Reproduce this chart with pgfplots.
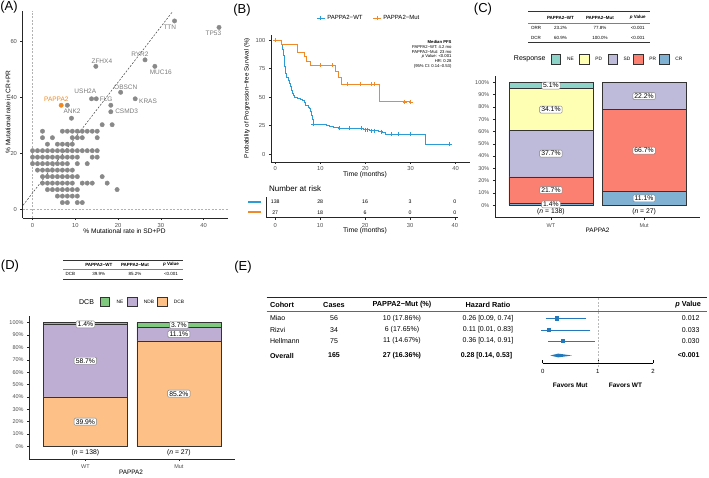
\documentclass[border=0pt]{standalone}
\usepackage{fontspec}
\setmainfont{Liberation Sans}
\usepackage{pgfplots}
\pgfplotsset{compat=1.18}
\newcommand{\fs}[1]{\fontsize{#1}{#1}\selectfont}
\definecolor{ptgray}{HTML}{898989}
\definecolor{labgray}{HTML}{7A7A7A}
\definecolor{papp}{HTML}{F0871F}
\definecolor{kmblue}{HTML}{2A9DD6}
\definecolor{kmorange}{HTML}{EE8A2A}
\definecolor{tickgray}{HTML}{4D4D4D}
\definecolor{cNE}{HTML}{8DD3C7}
\definecolor{cPD}{HTML}{FFFFB3}
\definecolor{cSD}{HTML}{BEBADA}
\definecolor{cPR}{HTML}{FB8072}
\definecolor{cCR}{HTML}{80B1D3}
\definecolor{dNE}{HTML}{7FC97F}
\definecolor{dNDB}{HTML}{BEAED4}
\definecolor{dDCB}{HTML}{FDC086}
\definecolor{fblue}{HTML}{2479BD}
\pgfplotsset{gg/.style={scale only axis, anchor=south west, axis x line*=bottom, axis y line*=left,
  axis line style={-, black!85, line width=0.45pt}, tick align=outside, major tick length=2.2pt,
  tick style={black!85, line width=0.45pt}, ticklabel style={text=tickgray, font=\fs{5.8}},
  /pgf/number format/assume math mode=true, clip=false}}
\tikzset{lbl/.style={draw=black!50, fill=white, rounded corners=1.2pt, inner xsep=1.6pt, inner ysep=1.1pt, font=\fs{6.8}, text=black},
  glab/.style={font=\fs{6.5}, text=labgray}}
\begin{document}
\begin{tikzpicture}[x=1pt,y=1pt]
\useasboundingbox (0,0) rectangle (709,477);
% ================= Panel A =================
\node[font=\fs{13}] at (9,469.5) {(A)};
\begin{axis}[gg, at={(22.7pt,259pt)}, width=205.3pt, height=207pt,
  xmin=-2.3, xmax=45.7, ymin=-3.2, ymax=71, xtick={0,10,20,30,40}, ytick={0,20,40,60}]
\addplot[gray!60, line width=0.4pt, dash pattern=on 2pt off 1.5pt] coordinates {(0,-3.2) (0,71)};
\addplot[gray!60, line width=0.4pt, dash pattern=on 2pt off 1.5pt] coordinates {(-2.3,0) (45.7,0)};
\addplot[only marks, mark=*, mark size=2.2pt, color=ptgray, mark options={ptgray}] coordinates {
(6.98,2.33) (8.14,2.33) (10.47,2.33) (11.63,2.33)
(5.82,4.65) (6.98,4.65) (8.14,4.65) (9.30,4.65) (10.47,4.65)
(3.49,6.98) (4.65,6.98) (5.82,6.98) (6.98,6.98) (8.14,6.98) (9.30,6.98) (10.47,6.98) (19.77,6.98)
(2.33,9.30) (3.49,9.30) (4.65,9.30) (5.82,9.30) (6.98,9.30) (8.14,9.30) (9.30,9.30) (11.63,9.30) (12.79,9.30) (13.96,9.30) (17.45,9.30)
(2.33,11.63) (3.49,11.63) (4.65,11.63) (5.82,11.63) (6.98,11.63) (8.14,11.63) (9.30,11.63) (10.47,11.63) (16.28,11.63)
(1.16,13.96) (2.33,13.96) (3.49,13.96) (4.65,13.96) (5.82,13.96) (6.98,13.96) (8.14,13.96) (9.30,13.96)
(0,16.28) (1.16,16.28) (2.33,16.28) (3.49,16.28) (4.65,16.28) (5.82,16.28) (6.98,16.28) (8.14,16.28) (10.47,16.28) (12.79,16.28)
(0,18.61) (1.16,18.61) (2.33,18.61) (3.49,18.61) (4.65,18.61) (5.82,18.61) (6.98,18.61) (8.14,18.61) (9.30,18.61) (10.47,18.61) (13.96,18.61) (15.12,18.61)
(0,20.93) (1.16,20.93) (2.33,20.93) (3.49,20.93) (4.65,20.93) (5.82,20.93) (6.98,20.93) (8.14,20.93) (9.30,20.93) (10.47,20.93) (11.63,20.93) (12.79,20.93) (13.96,20.93) (15.12,20.93)
(3.49,23.26) (5.82,23.26) (6.98,23.26) (8.14,23.26) (9.30,23.26)
(2.33,25.59) (4.65,25.59) (9.30,25.59) (10.47,25.59) (11.63,25.59) (15.12,25.59)
(2.33,27.91) (6.98,27.91) (8.14,27.91) (9.30,27.91) (10.47,27.91) (11.63,27.91) (12.79,27.91) (13.96,27.91) (15.12,27.91)
(16.28,30.24) (18.61,30.24)
(9.1,32.56) (8.14,37.21) (13.8,39.53) (14.9,39.53) (18.3,37.21) (18.3,34.88) (20.6,41.86) (24.0,39.53)
(14.8,51.16) (26.3,53.49) (28.6,51.16) (33.2,67.44) (43.6,65.12)};
\addplot[only marks, mark=*, mark size=2.2pt, color=papp, mark options={papp}] coordinates {(6.7,37.21)};
\addplot[black!75, line width=0.5pt, dash pattern=on 2pt off 1.5pt] coordinates {(-2.2,1.4) (32.7,70.7)};
\node[glab] at (axis cs:9.23,35.1) {ANK2};
\node[glab, text=papp] at (axis cs:5.56,39.4) {PAPPA2};
\node[glab] at (axis cs:12.34,42.4) {USH2A};
\node[glab] at (axis cs:17.2,39.3) {FLG};
\node[glab] at (axis cs:22.0,34.9) {CSMD3};
\node[glab] at (axis cs:21.8,43.6) {OBSCN};
\node[glab] at (axis cs:27.0,38.5) {KRAS};
\node[glab] at (axis cs:16.2,53.0) {ZFHX4};
\node[glab] at (axis cs:25.1,55.6) {RYR2};
\node[glab] at (axis cs:30.0,49.2) {MUC16};
\node[glab] at (axis cs:32.1,65.1) {TTN};
\node[glab] at (axis cs:42.3,63.0) {TP53};
\end{axis}
\node[font=\fs{6.6}] at (124.5,246) {\% Mutational rate in SD+PD};
\node[font=\fs{6.6}, rotate=90] at (8,365) {\% Mutational rate in CR+PR};
% ================= Panel B =================
\node[font=\fs{13}] at (242,467) {(B)};
\begin{axis}[gg, at={(271pt,315pt)}, width=199pt, height=127pt,
  xmin=-0.95, xmax=43.2, ymin=-7, ymax=104.4, xtick={0,10,20,30,40}, ytick={0,25,50,75,100},
  xticklabel style={yshift=1pt},
  legend columns=2, legend style={at={(0.492,1.134)}, anchor=center, draw=none, font=\fs{6}, fill=none,
    /tikz/every even column/.append style={column sep=8pt}},
  legend image code/.code={\draw[#1,mark=none] (0pt,0pt) -- (8pt,0pt); \draw[#1] plot coordinates {(4pt,0pt)};}]
\addlegendimage{kmblue, line width=0.8pt, mark=+, mark size=2pt}
\addlegendentry{PAPPA2−WT}
\addlegendimage{kmorange, line width=0.8pt, mark=+, mark size=2pt}
\addlegendentry{PAPPA2−Mut}
\addplot[kmblue, const plot, line width=0.8pt, mark=+, mark size=2pt, mark indices={1}, forget plot] coordinates {
(0,100) (1.0,99.3) (1.26,98.6) (1.4,96.4) (1.56,92.0) (1.7,89.9) (1.85,86.2) (1.95,81.9) (2.05,76.8) (2.15,72.5)
(2.3,70.3) (2.5,67.4) (2.8,65.9) (3.0,64.5) (3.15,61.6) (3.3,59.4) (3.5,57.2) (3.65,55.8) (3.8,52.9) (3.95,51.4)
(4.15,50.0) (4.4,49.3) (4.8,48.6) (5.5,47.8) (6.0,47.1) (6.4,45.6) (6.6,44.2) (6.75,42.8) (7.3,41.3) (7.6,39.9)
(7.9,37.7) (8.05,34.1) (8.2,30.4) (8.35,27.5) (8.5,26.1) (11.4,25.2) (12.0,24.3) (13.0,23.4) (14.0,22.5) (19.5,21.5)
(20.8,20.6) (22.9,19.6) (23.8,18.6) (24.5,17.6) (33.2,8.8) (38.7,8.8)};
\addplot[kmblue, only marks, mark=+, mark size=2pt, line width=0.5pt, forget plot] coordinates {
(8.4,26.1) (14.3,22.5) (16.3,22.5) (19.0,22.5) (19.9,21.5) (20.3,21.5) (21.2,20.6) (21.9,20.6) (23.4,19.6)
(25.8,17.6) (27.2,17.6) (29.9,17.6) (38.7,8.8)};
\addplot[kmorange, const plot, line width=0.8pt, mark=+, mark size=2pt, mark indices={1}, forget plot] coordinates {
(0,100) (1.4,96.3) (5.0,88.9) (6.4,85.2) (6.9,81.5) (7.7,77.8) (13.3,72.6) (14.0,66.9) (14.6,61.1) (23.0,45.8) (30.0,45.8)};
\addplot[kmorange, only marks, mark=+, mark size=2pt, line width=0.5pt, forget plot] coordinates {
(9.9,77.8) (12.7,77.8) (16.0,61.1) (18.9,61.1) (21.4,61.1) (21.9,61.1) (28.7,45.8) (30.0,45.8)};
\end{axis}
\node[font=\fs{6.2}, rotate=90] at (247,379) {Probability of Progression−free Survival (\%)};
\node[font=\fs{6.8}] at (365,302) {Time (months)};
\begin{scope}[font=\fs{4.2}]
\node[anchor=east, font=\fs{4.2}\bfseries] at (455,435) {Median PFS};
\node[anchor=east] at (455,430.2) {PAPPA2−WT: 4.2 mo};
\node[anchor=east] at (455,425.4) {PAPPA2−Mut: 23 mo};
\node[anchor=east] at (455,420.6) {\textit{p} Value: <0.001};
\node[anchor=east] at (455,415.8) {HR: 0.28};
\node[anchor=east] at (455,411) {(95\% CI: 0.14–0.53)};
\end{scope}
\node[anchor=west, font=\fs{8}] at (265.5,288.7) {Number at risk};
\begin{axis}[gg, at={(266.7pt,259.3pt)}, width=191.6pt, height=21pt,
  xmin=-1.9, xmax=40.75, ymin=0.5, ymax=2.5, xtick={0,10,20,30,40}, ytick={1,2},
  yticklabels={{\textcolor{kmorange}{\rule[0.2ex]{13pt}{2pt}}},{\textcolor{kmblue}{\rule[0.2ex]{13pt}{2pt}}}},
  ytick style={draw=none}]
\addplot[draw=none, mark=none, nodes near coords, point meta=explicit symbolic,
  every node near coord/.style={anchor=center, font=\fs{5.2}, text=black}] coordinates {
(0,2)[138] (10,2)[28] (20,2)[16] (30,2)[3] (40,2)[0] (0,1)[27] (10,1)[18] (20,1)[6] (30,1)[0] (40,1)[0]};
\end{axis}
\node[font=\fs{6.8}] at (365,246) {Time (months)};
% ================= Panel C =================
\node[font=\fs{13}] at (483,468) {(C)};
\draw[black!80, line width=0.5pt] (528,465.3) -- (650,465.3);
\draw[black!50, line width=0.3pt] (528,453.7) -- (650,453.7);
\draw[black!80, line width=0.5pt] (528,434.3) -- (650,434.3);
\begin{scope}[font=\fs{4.5}]
\node[font=\fs{4.5}\bfseries] at (560.5,459.5) {PAPPA2−WT};
\node[font=\fs{4.5}\bfseries] at (600,459.5) {PAPPA2−Mut};
\node[font=\fs{4.5}\bfseries] at (637.7,459.5) {\textit{p} Value};
\node at (536,449) {ORR}; \node at (560.5,449) {23.2\%}; \node at (600,449) {77.8\%}; \node at (637.7,449) {<0.001};
\node at (536,439) {DCR}; \node at (560.5,439) {60.9\%}; \node at (600,439) {100.0\%}; \node at (637.7,439) {<0.001};
\end{scope}
\node[anchor=east, font=\fs{7}] at (549,417.7) {Response};
\foreach \x/\c/\t in {551/cNE/NE, 579.3/cPD/PD, 607.7/cSD/SD, 633.3/cPR/PR, 659.3/cCR/CR} {
  \draw[black!80, line width=0.4pt, fill=\c] (\x,412.9) rectangle ++(9.5,9.5);
  \node[anchor=west, font=\fs{4.8}] at (\x+12.5,417.7) {\t};
}
\begin{axis}[gg, at={(495pt,259.3pt)}, width=205pt, height=141.7pt,
  xmin=-0.6, xmax=1.6, ymin=-10.25, ymax=105.25, ybar stacked, bar width=0.9,
  ytick={0,10,20,30,40,50,60,70,80,90,100}, yticklabel={\pgfmathprintnumber{\tick}\%},
  xtick={0,1}, xticklabels={WT,Mut}, ticklabel style={font=\fs{5.5}}]
\addplot[fill=cCR, draw=black!80, line width=0.4pt] coordinates {(0,1.4) (1,11.1)};
\addplot[fill=cPR, draw=black!80, line width=0.4pt] coordinates {(0,21.7) (1,66.7)};
\addplot[fill=cSD, draw=black!80, line width=0.4pt] coordinates {(0,37.7) (1,22.2)};
\addplot[fill=cPD, draw=black!80, line width=0.4pt] coordinates {(0,34.1) (1,0)};
\addplot[fill=cNE, draw=black!80, line width=0.4pt] coordinates {(0,5.1) (1,0)};
\coordinate (c1) at (axis cs:0,0.6);
\coordinate (c2) at (axis cs:0,12.25);
\coordinate (c3) at (axis cs:0,41.95);
\coordinate (c4) at (axis cs:0,77.85);
\coordinate (c5) at (axis cs:0,97.45);
\coordinate (c6) at (axis cs:1,5.55);
\coordinate (c7) at (axis cs:1,44.45);
\coordinate (c8) at (axis cs:1,88.9);
\coordinate (cn1) at (axis cs:0,-5.6);
\coordinate (cn2) at (axis cs:1,-5.6);
\end{axis}
\node[lbl] at (c1) {1.4\%};
\node[lbl] at (c2) {21.7\%};
\node[lbl] at (c3) {37.7\%};
\node[lbl] at (c4) {34.1\%};
\node[lbl] at (c5) {5.1\%};
\node[lbl] at (c6) {11.1\%};
\node[lbl] at (c7) {66.7\%};
\node[lbl] at (c8) {22.2\%};
\node[font=\fs{6.8}] at (cn1) {(\textit{n} = 138)};
\node[font=\fs{6.8}] at (cn2) {(\textit{n} = 27)};
\node[font=\fs{6.4}] at (597.5,246.3) {PAPPA2};
% ================= Panel D =================
\node[font=\fs{13}] at (10,211) {(D)};
\draw[black!80, line width=0.5pt] (63,217) -- (183,217);
\draw[black!50, line width=0.3pt] (63,208) -- (183,208);
\draw[black!80, line width=0.5pt] (63,197.7) -- (183,197.7);
\begin{scope}[font=\fs{4.5}]
\node[font=\fs{4.5}\bfseries] at (98.8,212.5) {PAPPA2−WT};
\node[font=\fs{4.5}\bfseries] at (135,212.5) {PAPPA2−Mut};
\node[font=\fs{4.5}\bfseries] at (171,212.5) {\textit{p} Value};
\node at (70.3,203) {DCB}; \node at (98.8,203) {39.9\%}; \node at (135,203) {85.2\%}; \node at (171,203) {<0.001};
\end{scope}
\node[anchor=east, font=\fs{7}] at (97.5,175.3) {DCB};
\foreach \x/\c/\t in {100/dNE/NE, 127.3/dNDB/NDB, 157.3/dDCB/DCB} {
  \draw[black!80, line width=0.4pt, fill=\c] (\x,170.6) rectangle ++(9.5,9.5);
  \node[anchor=west, font=\fs{4.8}] at (\x+13,175.3) {\t};
}
\begin{axis}[gg, at={(29.3pt,18pt)}, width=205.7pt, height=142.8pt,
  xmin=-0.6, xmax=1.6, ymin=-10.25, ymax=105.25, ybar stacked, bar width=0.9,
  ytick={0,10,20,30,40,50,60,70,80,90,100}, yticklabel={\pgfmathprintnumber{\tick}\%},
  xtick={0,1}, xticklabels={WT,Mut}, ticklabel style={font=\fs{5.5}}]
\addplot[fill=dDCB, draw=black!80, line width=0.4pt] coordinates {(0,39.9) (1,85.2)};
\addplot[fill=dNDB, draw=black!80, line width=0.4pt] coordinates {(0,58.7) (1,11.1)};
\addplot[fill=dNE, draw=black!80, line width=0.4pt] coordinates {(0,1.4) (1,3.7)};
\coordinate (d1) at (axis cs:0,19.95);
\coordinate (d2) at (axis cs:0,69.25);
\coordinate (d3) at (axis cs:0,98.6);
\coordinate (d4) at (axis cs:1,42.6);
\coordinate (d5) at (axis cs:1,90.75);
\coordinate (d6) at (axis cs:1,98.15);
\coordinate (dn1) at (axis cs:0,-5.3);
\coordinate (dn2) at (axis cs:1,-5.3);
\end{axis}
\node[lbl] at (d1) {39.9\%};
\node[lbl] at (d2) {58.7\%};
\node[lbl] at (d3) {1.4\%};
\node[lbl] at (d4) {85.2\%};
\node[lbl] at (d5) {11.1\%};
\node[lbl] at (d6) {3.7\%};
\node[font=\fs{6.8}] at (dn1) {(\textit{n} = 138)};
\node[font=\fs{6.8}] at (dn2) {(\textit{n} = 27)};
\node[font=\fs{6.4}] at (131,4.5) {PAPPA2};
% ================= Panel E =================
\node[font=\fs{13}] at (243,210) {(E)};
\draw[black!85, line width=0.6pt] (266.7,179.3) -- (706.7,179.3);
\draw[black!60, line width=0.35pt] (266.7,166) -- (706.7,166);
\begin{scope}[font=\fs{7}]
\node[anchor=west, font=\fs{7.3}\bfseries] at (266.5,172.4) {Cohort};
\node[font=\fs{7.3}\bfseries] at (334,172.4) {Cases};
\node[font=\fs{7.3}\bfseries] at (402,172.4) {PAPPA2−Mut (\%)};
\node[font=\fs{7.3}\bfseries] at (488,172.4) {Hazard Ratio};
\node[anchor=east, font=\fs{7.3}\bfseries] at (704.5,172.4) {\textit{p} Value};
\node[anchor=west] at (266.5,158.7) {Miao}; \node at (334,158.7) {56}; \node at (402,158.7) {10 (17.86\%)};
\node at (488,158.7) {0.26 [0.09, 0.74]}; \node[anchor=east] at (703,158.7) {0.012};
\node[anchor=west] at (266.5,147) {Rizvi}; \node at (334,147) {34}; \node at (402,147) {6 (17.65\%)};
\node at (488,147) {0.11 [0.01, 0.83]}; \node[anchor=east] at (703,147) {0.033};
\node[anchor=west] at (266.5,136) {Hellmann}; \node at (334,136) {75}; \node at (402,136) {11 (14.67\%)};
\node at (488,136) {0.36 [0.14, 0.91]}; \node[anchor=east] at (703,136) {0.030};
\node[anchor=west, font=\fs{7}\bfseries] at (266.5,121.5) {Overall}; \node[font=\fs{7}\bfseries] at (334,121.5) {165};
\node[font=\fs{7}\bfseries] at (402,121.5) {27 (16.36\%)};
\node[font=\fs{7}\bfseries] at (486.5,121.5) {0.28 [0.14, 0.53]}; \node[anchor=east, font=\fs{7}\bfseries] at (703,121.5) {<0.001};
\end{scope}
\begin{axis}[scale only axis, anchor=south west, at={(542.7pt,113.7pt)}, width=110.3pt, height=65.6pt,
  xmin=0, xmax=2, ymin=0, ymax=65.6, axis x line*=bottom, axis y line=none,
  axis line style={-, black, line width=0.5pt}, tick align=inside, major tick length=3pt,
  tick style={black, line width=0.5pt}, xtick={0,1,2}, ticklabel style={font=\fs{6}},
  xticklabel style={yshift=-2.5pt}, clip=false, /pgf/number format/assume math mode=true]
\addplot[gray!55, line width=0.5pt, dash pattern=on 2pt off 1.5pt] coordinates {(1,-3.4) (1,65.6)};
\addplot[fblue, only marks, mark=square*, mark size=1.7pt, line width=0.6pt,
  error bars/.cd, x dir=both, x explicit, error bar style={line width=0.6pt, fblue},
  error mark options={fblue, mark size=2pt, line width=0.6pt}] coordinates {
(0.26,45) += (0.48,0) -= (0.17,0)
(0.11,33.3) += (0.72,0) -= (0.10,0)
(0.36,22.3) += (0.55,0) -= (0.22,0)};
\addplot[fill=fblue, draw=none] coordinates {(0.14,7.8) (0.28,9.7) (0.53,7.8) (0.28,5.9)} -- cycle;
\node[font=\fs{6.5}\bfseries] at (axis cs:0.5,-21.7) {Favors Mut};
\node[font=\fs{6.5}\bfseries] at (axis cs:1.5,-21.7) {Favors WT};
\end{axis}
\end{tikzpicture}
\end{document}
